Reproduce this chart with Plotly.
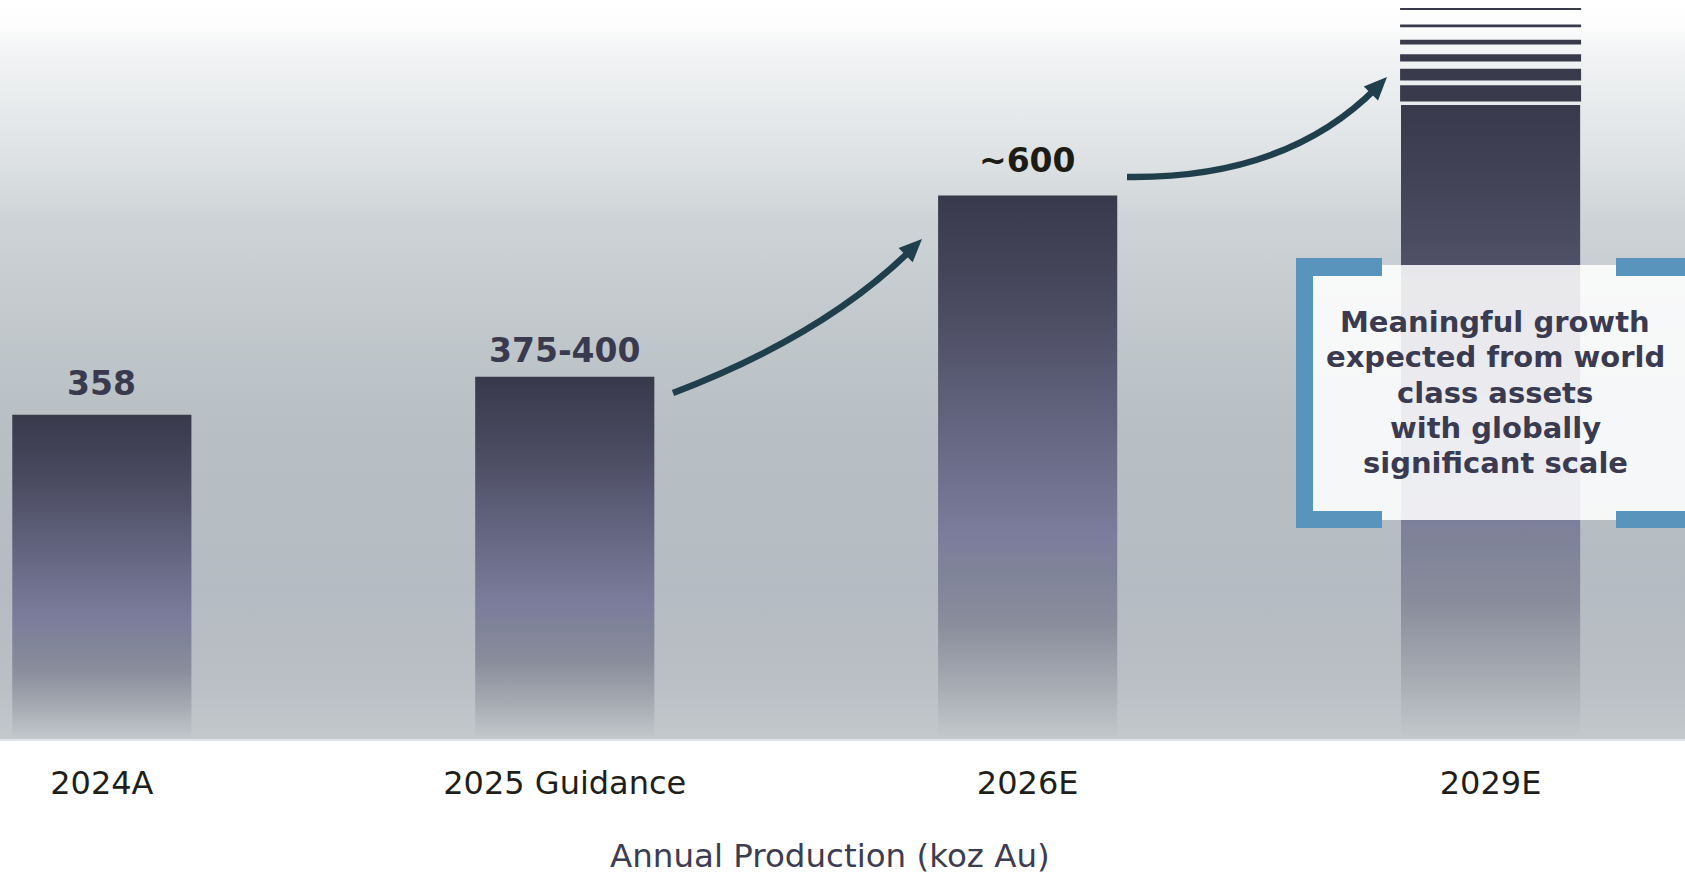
import base64
import plotly.graph_objects as go

# ---------------- data ----------------
categories = ["2024A", "2025 Guidance", "2026E", "2029E"]
production = [358, 400, 600, 700]          # koz Au (bar tops)
value_labels = ["358", "375-400", "~600", ""]
stripe_low = [704, 727, 748, 767, 786, 805]   # 2029E upside stripes (koz)
stripe_high = [722, 740, 756, 772, 789, 807]
callout_lines = ["Meaningful growth", "expected from world", "class assets",
                 "with globally", "significant scale"]
axis_title = "Annual Production (koz Au)"

# ---------------- layout constants ----------------
W, H = 1685, 876
MB = 137
PH = H - MB            # plot height in px (baseline at 739)
Y_MAX = 816
X_MIN, X_MAX = -0.22, 3.42
BAR_W = 0.387
FONT = "DejaVu Sans, Verdana, sans-serif"
DARK = "#3A3A4D"
ARROW = "#203F4C"
BLUE = "#5894BB"


def px(x):
    return x / W


def py(y):
    return (PH - y) / PH


# background gradient as an inline SVG
bg_stops = [(0, "#FFFFFF"), (0.03, "#FDFDFD"), (0.08, "#F0F2F3"), (0.22, "#DDE1E3"),
            (0.30, "#CDD3D6"), (0.47, "#BFC6CA"), (0.57, "#B8C0C5"), (0.80, "#B4BBC2"),
            (0.93, "#BAC0C5"), (1.0, "#C2C8CB")]
stops_svg = "".join(f'<stop offset="{o}" stop-color="{c}"/>' for o, c in bg_stops)
svg = ('<svg xmlns="http://www.w3.org/2000/svg" width="100" height="100" viewBox="0 0 1 1" '
       'preserveAspectRatio="none"><defs><linearGradient id="g" x1="0" y1="0" x2="0" y2="1">'
       f'{stops_svg}</linearGradient></defs><rect x="0" y="0" width="1" height="1" fill="url(#g)"/></svg>')
bg_uri = "data:image/svg+xml;base64," + base64.b64encode(svg.encode()).decode()

bar_scale = [[0.0, "#C3C8CC"], [0.12, "#A0A5AE"], [0.22, "#888C9B"], [0.31, "#7F8398"],
             [0.37, "#7B7D9C"], [0.58, "#636580"], [0.79, "#4B4B61"], [1.0, "#39394C"]]

fig = go.Figure()

# gradient bars
for i, v in enumerate(production):
    x0, x1 = i - BAR_W / 2, i + BAR_W / 2
    fig.add_trace(go.Scatter(
        x=[x0, x1, x1, x0, x0], y=[0, 0, v, v, 0],
        mode="lines", fill="toself", line=dict(width=0),
        fillgradient=dict(type="vertical", colorscale=bar_scale, start=0, stop=v),
        hoverinfo="skip", showlegend=False, name=categories[i]))

# 2029E upside stripes
fig.add_trace(go.Bar(
    x=[3] * len(stripe_low),
    y=[h - l for l, h in zip(stripe_low, stripe_high)],
    base=stripe_low, width=BAR_W + 0.004,
    marker=dict(color=DARK, line=dict(width=0)),
    hoverinfo="skip", showlegend=False))

shapes = []
annotations = []

# value labels
label_colors = ["#3A3A4F", "#3A3A4F", "#1C1C14", "#3A3A4F"]
label_shift = [31, 26, 35, 31]
for i, (v, t) in enumerate(zip(production, value_labels)):
    if t:
        annotations.append(dict(x=i, y=v, xref="x", yref="y", text=t, showarrow=False,
                                yanchor="middle", yshift=label_shift[i],
                                font=dict(family=FONT, size=33, color=label_colors[i], weight="bold")))


# curved arrows (pixel geometry)
def arrow(p0, c, p2, head_len=23, head_half=10):
    dx, dy = p2[0] - c[0], p2[1] - c[1]
    n = (dx * dx + dy * dy) ** 0.5
    ux, uy = dx / n, dy / n
    end = (p2[0] - ux * 14, p2[1] - uy * 14)
    shapes.append(dict(type="path", xref="paper", yref="paper", layer="above",
                       path=f"M {px(p0[0])},{py(p0[1])} Q {px(c[0])},{py(c[1])} {px(end[0])},{py(end[1])}",
                       line=dict(color=ARROW, width=6.5), fillcolor="rgba(0,0,0,0)"))
    bx, by = p2[0] - ux * head_len, p2[1] - uy * head_len
    c1 = (bx - uy * head_half, by + ux * head_half)
    c2 = (bx + uy * head_half, by - ux * head_half)
    shapes.append(dict(type="path", xref="paper", yref="paper", layer="above",
                       path=f"M {px(p2[0])},{py(p2[1])} L {px(c1[0])},{py(c1[1])} L {px(c2[0])},{py(c2[1])} Z",
                       line=dict(width=0), fillcolor=ARROW))


arrow((673, 393), (825, 335), (922, 239))
arrow((1127, 177), (1287, 179), (1387, 77))

# callout box
shapes.append(dict(type="rect", xref="paper", yref="paper", layer="above",
                   x0=px(1313), x1=px(1700), y0=py(520), y1=py(265),
                   fillcolor="rgba(255,255,255,0.87)", line=dict(width=0)))
for (ax0, ay0, ax1, ay1) in [(1296, 258, 1313, 528), (1296, 258, 1382, 276), (1296, 511, 1382, 528),
                             (1616, 258, 1700, 276), (1616, 511, 1700, 528)]:
    shapes.append(dict(type="rect", xref="paper", yref="paper", layer="above",
                       x0=px(ax0), x1=px(ax1), y0=py(ay1), y1=py(ay0),
                       fillcolor=BLUE, line=dict(width=0)))
LINE_STEP = 35.3
first_y = 392.7 - LINE_STEP * (len(callout_lines) - 1) / 2
for k, line in enumerate(callout_lines):
    annotations.append(dict(x=px(1495), y=py(first_y + k * LINE_STEP), xref="paper", yref="paper",
                            text=line, showarrow=False,
                            xanchor="center", yanchor="middle", align="center",
                            font=dict(family=FONT, size=29, color="#3A3A50", weight="bold")))

# axis title
annotations.append(dict(x=px(830), y=py(856), xref="paper", yref="paper", text=axis_title,
                        showarrow=False, xanchor="center", yanchor="middle",
                        font=dict(family=FONT, size=32.5, color="#3D3D52")))

fig.update_layout(
    width=W, height=H,
    margin=dict(l=0, r=0, t=0, b=MB, pad=0),
    paper_bgcolor="white", plot_bgcolor="rgba(0,0,0,0)",
    showlegend=False,
    shapes=shapes, annotations=annotations,
    images=[dict(source=bg_uri, xref="paper", yref="paper", x=0, y=1, sizex=1, sizey=1,
                 xanchor="left", yanchor="top", sizing="stretch", layer="below")],
    xaxis=dict(range=[X_MIN, X_MAX], tickvals=list(range(len(categories))), ticktext=categories,
               showgrid=False, zeroline=False, showline=True, linecolor="#E2E3EA", linewidth=2,
               ticks="", ticklabelstandoff=15,
               tickfont=dict(family=FONT, size=32, color="#1E1E1A")),
    yaxis=dict(range=[0, Y_MAX], showgrid=False, zeroline=False, showticklabels=False,
               showline=False, ticks=""),
)

fig.write_html("out.html")
